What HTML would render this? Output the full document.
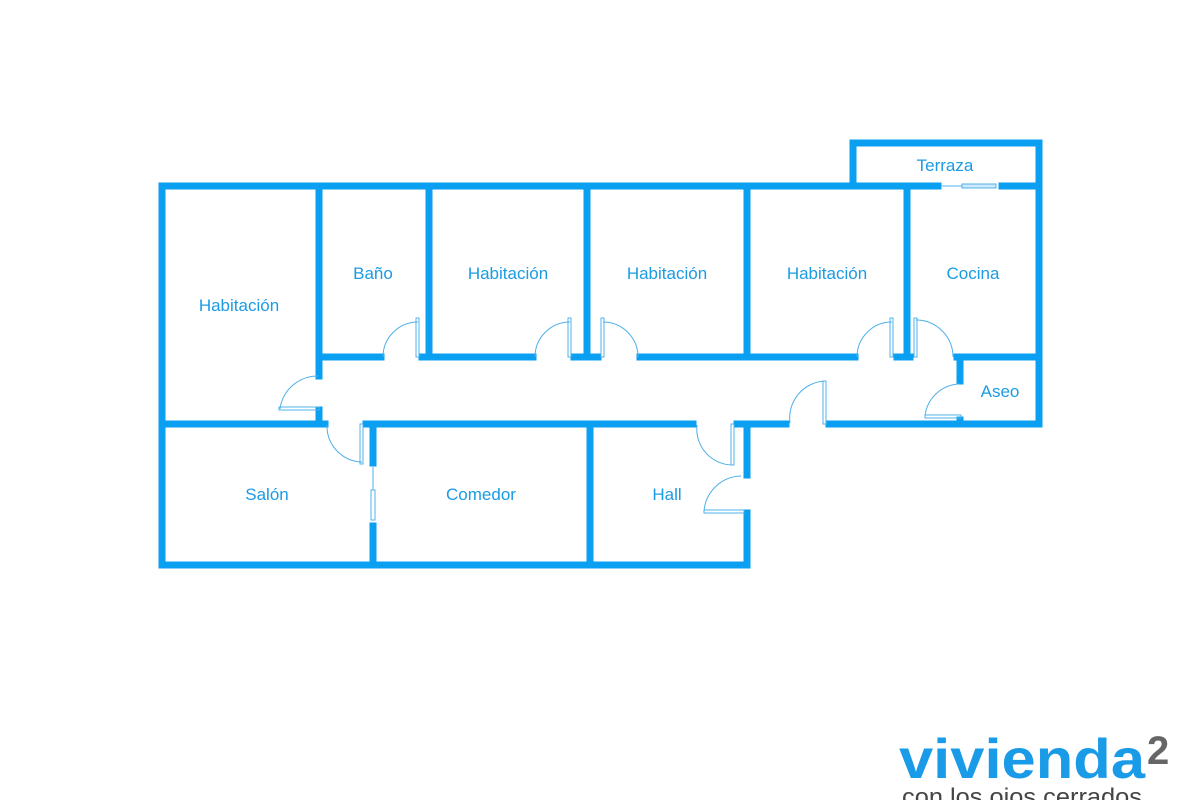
<!DOCTYPE html>
<html><head><meta charset="utf-8"><style>
html,body{margin:0;padding:0;background:#fff;}
svg{display:block;}
text{font-family:"Liberation Sans","DejaVu Sans",sans-serif;}
</style></head><body>
<svg width="1200" height="800" viewBox="0 0 1200 800" xmlns="http://www.w3.org/2000/svg">
<g stroke="#0a9ff0" stroke-width="7" fill="none" stroke-linecap="square">
  <path d="M162 186 H938"/>
  <path d="M1002 186 H1039 V424"/>
  <path d="M162 186 V565 H747 V513"/>
  <path d="M747 475 V424"/>
  <path d="M853 186 V143 H1039 V186"/>
  <path d="M319 186 V376"/>
  <path d="M319 410 V424"/>
  <path d="M429 186 V357"/>
  <path d="M587 186 V357"/>
  <path d="M747 186 V357"/>
  <path d="M907 186 V357"/>
  <path d="M319 357 H381"/>
  <path d="M422 357 H533"/>
  <path d="M574 357 H598"/>
  <path d="M640 357 H855"/>
  <path d="M897 357 H910"/>
  <path d="M957 357 H1039"/>
  <path d="M960 357 V381"/>
  <path d="M960 420 V424"/>
  <path d="M162 424 H325"/>
  <path d="M366 424 H693"/>
  <path d="M737 424 H786"/>
  <path d="M829 424 H1039"/>
  <path d="M373 424 V463"/>
  <path d="M373 526 V565"/>
  <path d="M590 424 V565"/>
</g>
<g stroke="#4fb0ea" stroke-width="1" fill="none">
  <path d="M383 357 A35 35 0 0 1 418 322"/><rect x="416" y="318" width="3" height="39"/>
  <path d="M535 357 A35 35 0 0 1 570 322"/><rect x="568" y="318" width="3" height="39"/>
  <path d="M638 357 A35 35 0 0 0 603 322"/><rect x="601" y="318" width="3" height="39"/>
  <path d="M857 357 A35 35 0 0 1 892 322"/><rect x="890" y="318" width="3" height="39"/>
  <path d="M953 357 A37 37 0 0 0 916 320"/><rect x="914" y="318" width="3" height="39"/>
  <path d="M280 409 A38 38 0 0 1 318 376"/><rect x="279" y="407" width="40" height="3"/>
  <path d="M327 425 A36 36 0 0 0 362 462"/><rect x="360" y="424" width="3" height="40"/>
  <path d="M697 425 A36 36 0 0 0 733 465"/><rect x="731" y="424" width="3" height="41"/>
  <path d="M790 423 A37 37 0 0 1 825 381"/><rect x="823" y="381" width="3" height="43"/>
  <path d="M925 416 A36 36 0 0 1 959 384"/><rect x="925" y="415" width="36" height="3"/>
  <path d="M704 512 A38 38 0 0 1 741 476"/><rect x="704" y="510" width="40" height="3"/>
  <path d="M373 467 V490"/><rect x="371" y="490" width="4" height="30"/>
  <path d="M942 186 H962"/><rect x="962" y="184" width="34" height="4" fill="#cfe9fa"/>
</g>
<g fill="#1a9be4" font-size="17" text-anchor="middle">
  <text x="945" y="171">Terraza</text>
  <text x="373" y="279">Baño</text>
  <text x="508" y="279">Habitación</text>
  <text x="667" y="279">Habitación</text>
  <text x="827" y="279">Habitación</text>
  <text x="973" y="279">Cocina</text>
  <text x="239" y="311">Habitación</text>
  <text x="1000" y="397">Aseo</text>
  <text x="267" y="500">Salón</text>
  <text x="481" y="500">Comedor</text>
  <text x="667" y="500">Hall</text>
</g>
<text x="899" y="778" font-size="56" font-weight="bold" fill="#1a9be8" textLength="246" lengthAdjust="spacingAndGlyphs">vivienda</text>
<text x="1147" y="764" font-size="40" font-weight="bold" fill="#666">2</text>
<text x="902" y="805" font-size="24" fill="#444" textLength="240" lengthAdjust="spacingAndGlyphs">con los ojos cerrados</text>
</svg>
</body></html>
